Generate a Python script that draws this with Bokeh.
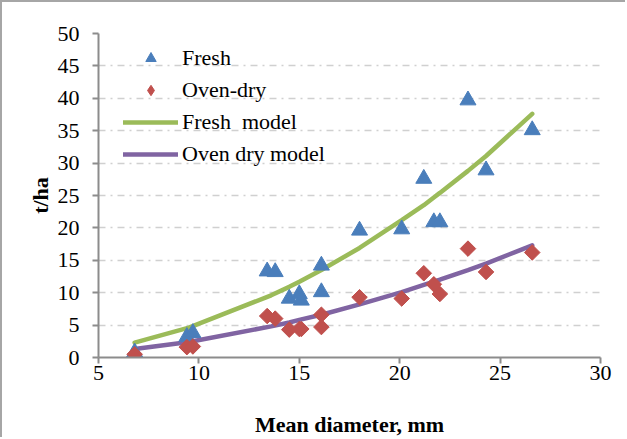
from bokeh.plotting import figure
from bokeh.embed import file_html
from bokeh.resources import INLINE
from bokeh.models import Legend, LegendItem, FixedTicker

diam = [6.8, 9.4, 9.7, 13.4, 13.8, 14.5, 15.0, 15.1, 16.1, 16.1, 18.0, 20.1, 21.2, 21.7, 22.0, 23.4, 24.3, 26.6]
fresh = [0.8, 3.2, 3.8, 13.3, 13.2, 9.1, 9.8, 8.8, 14.2, 10.1, 19.6, 19.8, 27.6, 20.9, 20.9, 39.7, 28.9, 35.1]
oven = [0.5, 1.6, 1.7, 6.4, 6.0, 4.3, 4.4, 4.4, 6.6, 4.7, 9.3, 9.1, 13.0, 11.3, 9.8, 16.8, 13.2, 16.2]

model_x = [6.8, 9.5, 13.6, 14.5, 15.0, 16.1, 18.0, 20.1, 21.2, 21.7, 22.0, 23.4, 24.3, 26.6]
fresh_model = [2.3, 4.6, 9.6, 10.9, 11.7, 13.5, 16.9, 21.2, 23.5, 24.7, 25.4, 28.8, 31.1, 37.6]
oven_model = [1.3, 2.4, 4.8, 5.4, 5.8, 6.6, 8.2, 10.1, 11.2, 11.7, 12.0, 13.5, 14.5, 17.3]

x_ticks = [5, 10, 15, 20, 25, 30]
y_ticks = [0, 5, 10, 15, 20, 25, 30, 35, 40, 45, 50]

FONT = "Liberation Serif"

p = figure(width=625, height=437, output_backend="svg", toolbar_location=None,
           x_range=(5, 30), y_range=(0, 50),
           min_border_left=96, min_border_right=27, min_border_top=31, min_border_bottom=82)
p.styles = {"border-top": "2px solid #a6a6a6", "border-left": "2px solid #a6a6a6"}
p.outline_line_color = None
p.background_fill_color = "white"

p.xgrid.grid_line_color = None
p.ygrid.grid_line_color = "#d0d0d0"
p.ygrid.grid_line_width = 1.5
p.ygrid.grid_line_dash = "7 5 2 5"

for ax in (p.xaxis[0], p.yaxis[0]):
    ax.axis_line_color = "#8c8c8c"
    ax.axis_line_width = 2
    ax.major_tick_line_color = "#8c8c8c"
    ax.major_tick_line_width = 2
    ax.major_tick_out = 6
    ax.major_tick_in = 0
    ax.minor_tick_line_color = None
    ax.major_label_text_font = FONT
    ax.major_label_text_font_size = "22px"
    ax.major_label_text_color = "black"
    ax.axis_label_text_font = FONT
    ax.axis_label_text_font_size = "22px"
    ax.axis_label_text_font_style = "bold"
    ax.axis_label_text_color = "black"

p.xaxis.ticker = FixedTicker(ticks=x_ticks)
p.yaxis.ticker = FixedTicker(ticks=y_ticks)
p.xaxis.axis_label = "Mean diameter, mm"
p.yaxis.axis_label = "t/ha"
p.xaxis.major_label_standoff = 2
p.yaxis.major_label_standoff = 13
p.xaxis.axis_label_standoff = 29
p.yaxis.axis_label_standoff = 2

r_fm = p.line(model_x, fresh_model, line_color="#9bbb59", line_width=4.5, line_cap="round")
r_om = p.line(model_x, oven_model, line_color="#8064a2", line_width=4.5, line_cap="round")
r_f = p.scatter(diam, fresh, marker="triangle", size=16, fill_color="#4a7ebb", line_color="#4a7ebb")
# legend key for oven-dry (diamond), hidden beneath the rotated squares
r_o_key = p.scatter(diam, oven, marker="diamond", size=14, fill_color="#c0504d", line_color="#c0504d")
r_o = p.scatter(diam, oven, marker="square", angle=0.785398, size=11, fill_color="#c0504d", line_color="#c0504d")

legend = Legend(items=[
    LegendItem(label="Fresh", renderers=[r_f]),
    LegendItem(label="Oven-dry", renderers=[r_o_key]),
    LegendItem(label="Fresh  model", renderers=[r_fm]),
    LegendItem(label="Oven dry model", renderers=[r_om]),
], location=(25, 190))
legend.background_fill_alpha = 0
legend.border_line_color = None
legend.padding = 0
legend.margin = 0
legend.spacing = 6
legend.glyph_width = 55
legend.glyph_height = 26
legend.label_height = 26
legend.label_standoff = 4
legend.label_text_font = FONT
legend.label_text_font_size = "22px"
legend.label_text_color = "black"
p.add_layout(legend, "center")

open("out.html", "w").write(file_html(p, INLINE))
